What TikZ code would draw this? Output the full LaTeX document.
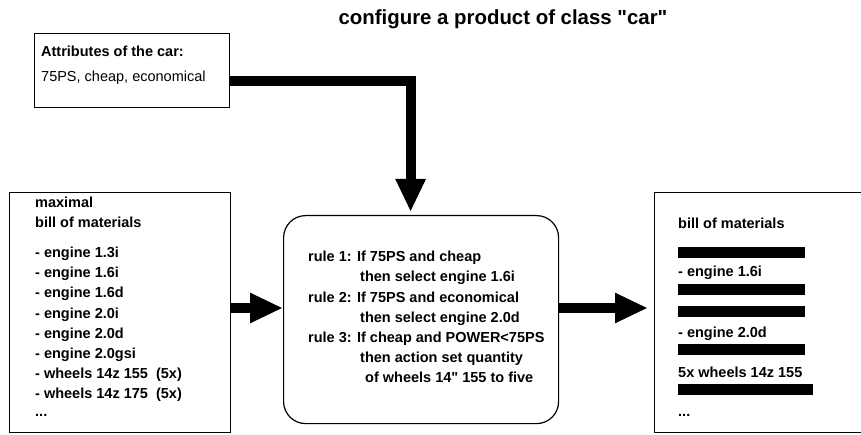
\documentclass[tikz,border=0pt]{standalone}
\usepackage{fontspec}
\setmainfont{Liberation Sans}[Ligatures=TeXOff]
\usetikzlibrary{arrows.meta}
\begin{document}
\begin{tikzpicture}[x=1pt,y=-1pt,
  box/.style={draw,line width=1.2pt,rectangle,inner sep=0pt,anchor=north west},
  txt/.style={anchor=base west,inner sep=0pt,font=\fontsize{14.5}{17}\selectfont\bfseries},
  plain/.style={anchor=base west,inner sep=0pt,font=\fontsize{14.5}{17}\selectfont},
  fat/.style={line width=10pt,line join=miter,-{Triangle[length=33pt,width=28pt]}},
  bar/.style={fill=black,draw=none,inner sep=0pt,anchor=north west,minimum height=11pt}
]
\useasboundingbox (0,0) rectangle (861,435);
\clip (0,0) rectangle (861,435);

% title
\node[anchor=base,inner sep=0pt,font=\fontsize{20.4}{24}\selectfont\bfseries] (title) at (503,25) {configure a product of class "car"};

% boxes
\node[box,minimum width=195pt,minimum height=74pt] (attr) at (34,33) {};
\node[box,minimum width=221pt,minimum height=240pt] (left) at (9,192) {};
\node[box,rounded corners=22pt,minimum width=275pt,minimum height=208pt] (mid) at (283,215) {};
\node[box,minimum width=225pt,minimum height=240pt] (right) at (654,192) {};

% attributes
\node[txt] (a1) at (41,57) {Attributes of the car:};
\node[plain] (a2) at (41,82) {75PS, cheap, economical};

% maximal bill of materials
\node[txt] (l0) at (35,208) {maximal};
\node[txt] (l00) at (35,228) {bill of materials};
\node[txt] (l1) at (35,258) {- engine 1.3i};
\node[txt] (l2) at (35,278) {- engine 1.6i};
\node[txt] (l3) at (35,298) {- engine 1.6d};
\node[txt] (l4) at (35,318) {- engine 2.0i};
\node[txt] (l5) at (35,338) {- engine 2.0d};
\node[txt] (l6) at (35,358) {- engine 2.0gsi};
\node[txt] (l7) at (35,378) {- wheels 14z 155\ \ (5x)};
\node[txt] (l8) at (35,398) {- wheels 14z 175\ \ (5x)};
\node[txt] (l9) at (35,416) {...};

% rules
\node[txt] (r1) at (308,262) {rule 1: If 75PS and cheap};
\node[txt] (r1b) at (360,282) {then select engine 1.6i};
\node[txt] (r2) at (308,302) {rule 2: If 75PS and economical};
\node[txt] (r2b) at (360,322) {then select engine 2.0d};
\node[txt] (r3) at (308,342) {rule 3: If cheap and POWER<75PS};
\node[txt] (r3b) at (360,362) {then action set quantity};
\node[txt] (r3c) at (365,382) {of wheels 14" 155 to five};

% resulting bill of materials
\node[txt] (b0) at (678,229) {bill of materials};
\node[bar,minimum width=127pt] (k1) at (678,247) {};
\node[txt] (b2) at (678,277) {- engine 1.6i};
\node[bar,minimum width=127pt] (k3) at (678,284) {};
\node[bar,minimum width=127pt] (k4) at (678,306) {};
\node[txt] (b5) at (678,337) {- engine 2.0d};
\node[bar,minimum width=127pt] (k6) at (678,344) {};
\node[txt] (b7) at (678,377) {5x wheels 14z 155};
\node[bar,minimum width=135pt] (k8) at (678,384) {};
\node[txt] (b9) at (678,416) {...};

% connectors
\coordinate (ya) at (0,81);
\coordinate (yb) at (0,308);
\path (mid.north) ++(-10.5,-3) coordinate (mtip);
\path (right.west |- yb) ++(-6,0) coordinate (rtip);
\draw[fat] (attr.east |- ya) -| (mtip);
\draw[fat] (left.east |- yb) -- (mid.west |- yb);
\draw[fat] (mid.east |- yb) -- (rtip);
\end{tikzpicture}
\end{document}
